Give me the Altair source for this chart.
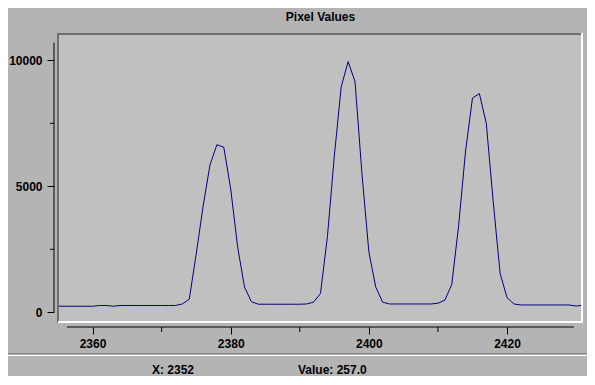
import altair as alt
import pandas as pd

# ---- data ----
pixel_x = list(range(2355, 2432))
pixel_value = [
    240, 240, 240, 240, 240, 240, 270, 270, 240, 270,   # 2355-2364
    270, 270, 270, 270, 270, 270, 270, 270, 330, 520,   # 2365-2374
    2300, 4200, 5850, 6650, 6550, 4900, 2600, 1000, 420, 320,  # 2375-2384
    320, 320, 320, 320, 320, 320, 330, 400, 750, 3000,  # 2385-2394
    6200, 8950, 9950, 9150, 5500, 2400, 1000, 400, 330, 330,  # 2395-2404
    330, 330, 330, 330, 330, 360, 480, 1100, 3450, 6400,  # 2405-2414
    8500, 8680, 7500, 4400, 1550, 580, 330, 290, 290, 290,  # 2415-2424
    290, 290, 290, 290, 290, 250, 280,                    # 2425-2431
]
x_ticks = [2360, 2380, 2400, 2420]
x_minor_ticks = [2370, 2390, 2410]
y_ticks = [0, 5000, 10000]
y_minor_ticks = [2500, 7500]
x_axis_extent = [2356.3, 2429.7]
y_axis_extent = [0, 10700]
x_domain = [2355, 2431]
y_domain = [-425, 11044]
title_text = "Pixel Values"
status_x = "X: 2352"
status_value = "Value: 257.0"

W, H = 525, 289
FONT = "Liberation Sans"
BG = "#b4b4b4"
PLOT_BG = "#c0c0c0"
DARK = "#6f6f6f"

df = pd.DataFrame({"x": pixel_x, "y": pixel_value})
xs = alt.Scale(domain=x_domain, nice=False, zero=False)
ys = alt.Scale(domain=y_domain, nice=False, zero=False)

x_axis = alt.Axis(
    values=x_ticks, title=None, domain=False, grid=False, offset=4,
    tickSize=7, tickColor="black", labelPadding=4, labelFont=FONT,
    labelFontSize=12, labelFontWeight="bold", labelColor="black",
    labelFlush=False, format="d")
y_axis = alt.Axis(
    values=y_ticks, title=None, domain=False, grid=False, offset=4,
    tickSize=7, tickColor="black", labelPadding=5, labelFont=FONT,
    labelFontSize=12, labelFontWeight="bold", labelColor="black",
    format="d")

line = alt.Chart(df).mark_line(color="#000080", strokeWidth=1, clip=True).encode(
    x=alt.X("x:Q", scale=xs, axis=x_axis),
    y=alt.Y("y:Q", scale=ys, axis=y_axis),
)

one = alt.Data(values=[{}])

y_axis_line = alt.Chart(pd.DataFrame({"a": [y_axis_extent[0]], "b": [y_axis_extent[1]]})).mark_rule(
    color="black", clip=False).encode(
    x=alt.value(-4), y=alt.Y("a:Q", scale=ys, axis=y_axis), y2="b:Q")
y_minor = alt.Chart(pd.DataFrame({"v": y_minor_ticks})).mark_rule(color="black", clip=False).encode(
    y=alt.Y("v:Q", scale=ys, axis=y_axis), x=alt.value(-8), x2=alt.value(-4))
x_axis_line = alt.Chart(pd.DataFrame({"a": [x_axis_extent[0]], "b": [x_axis_extent[1]]})).mark_rule(
    color="black", clip=False).encode(
    x=alt.X("a:Q", scale=xs, axis=x_axis), x2="b:Q", y=alt.value(H + 4))
x_minor = alt.Chart(pd.DataFrame({"v": x_minor_ticks})).mark_rule(color="black", clip=False).encode(
    x=alt.X("v:Q", scale=xs, axis=x_axis), y=alt.value(H + 4), y2=alt.value(H + 9))

def rule(color, sw, **enc):
    return alt.Chart(one).mark_rule(color=color, strokeWidth=sw, clip=False).encode(
        **{k: alt.value(v) for k, v in enc.items()})

bevel = [
    rule(DARK, 2, x=-1, x2=W, y=0),
    rule(DARK, 2, x=0, y=-1, y2=H),
    rule("white", 2, x=W - 1, y=-1, y2=H),
    rule("white", 2, x=0, x2=W, y=H - 1),
    # outer etched frame (bottom side)
    rule("#808080", 1, x=-60, x2=531, y=319.5),
    rule("white", 1, x=-60, x2=533, y=321.5),
]

def label(text, x, y, align="center"):
    return alt.Chart(one).mark_text(
        text=text, font=FONT, fontSize=12, fontWeight="bold", color="black",
        align=align, baseline="middle", clip=False).encode(
        x=alt.value(x), y=alt.value(y))

texts = [
    label(title_text, 262.5, -17),
    label(status_x, 115, 336),
    label(status_value, 240, 336, align="left"),
]

chart = alt.layer(line, y_axis_line, y_minor, x_axis_line, x_minor, *bevel, *texts).properties(
    width=W, height=H,
    autosize=alt.AutoSizeParams(type="none"),
    padding={"left": 50, "top": 26, "right": 4, "bottom": 53},
    background=BG,
).configure_view(stroke=None, fill=PLOT_BG)

chart.save("out.html", embed_options={"renderer": "svg", "actions": False})
